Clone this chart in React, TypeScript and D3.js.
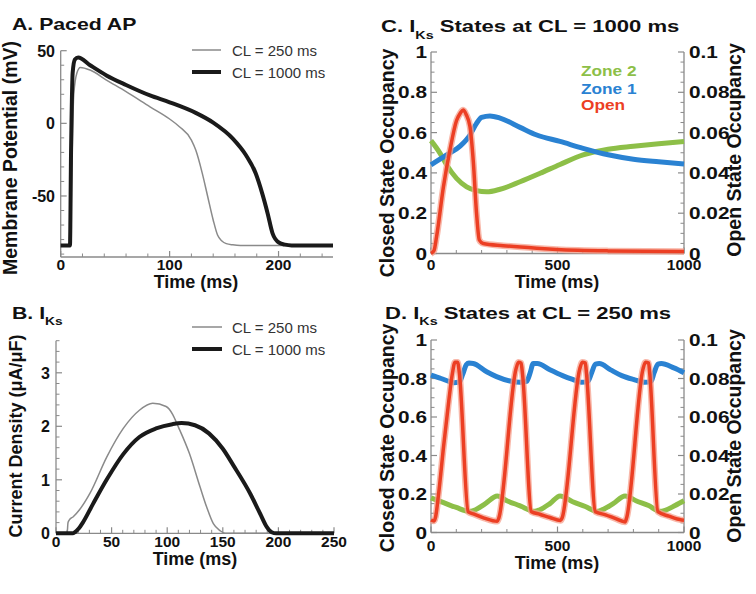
import React from 'react';
import * as d3 from 'd3';

const FONT = "'Liberation Sans', Arial, Helvetica, sans-serif";

// ---------- Panel A: paced AP ----------
const apTime250 = [0, 9, 10, 12, 15, 18, 27, 42, 60, 82, 100, 109, 120, 124, 130, 135, 140, 144, 148, 152, 158, 165, 250];
const apV250 = [-84, -84, -40, 20, 35, 38.5, 36.7, 29.8, 21.8, 11.4, 3, -2.3, -11.5, -18.4, -34.4, -50.5, -66.5, -76.9, -81, -82.8, -83.6, -84, -84];
const apTime1000 = [0, 8.5, 9.5, 11, 13, 16, 27, 42, 60, 82, 100, 124, 140, 158, 170, 179, 185, 190, 194.5, 200.6, 206, 212, 250];
const apV1000 = [-84, -84, -20, 35, 44, 45.4, 40, 33, 26.4, 19.2, 14.5, 7.2, 0.5, -10.5, -21.8, -34.4, -48.2, -62, -75.7, -82.2, -83.5, -84, -84];
const apXTicks = [0, 100, 200];
const apYTicks = [-50, 0, 50];

// ---------- Panel B: IKs ----------
const ikTime250 = [0, 10, 10.8, 12, 15.5, 21.5, 30.6, 45.5, 60.5, 75, 87, 99, 105, 110, 120, 129.5, 135.5, 141.5, 147.5, 152, 250];
const ikI250 = [0, 0, 0.2, 0.25, 0.31, 0.45, 0.75, 1.42, 1.96, 2.3, 2.43, 2.37, 2.22, 1.99, 1.49, 0.87, 0.49, 0.18, 0.05, 0, 0];
const ikTime1000 = [0, 15, 17, 20, 24.4, 33.3, 45.5, 60.5, 75, 90, 104.7, 113, 125, 150, 159.5, 174.7, 183.5, 189.5, 194, 198, 250];
const ikI1000 = [0, 0, 0.02, 0.08, 0.21, 0.55, 1.0, 1.48, 1.8, 1.96, 2.04, 2.06, 2.02, 1.58, 1.27, 0.74, 0.37, 0.12, 0.02, 0, 0];
const ikXTicks = [0, 50, 100, 150, 200, 250];
const ikYTicks = [0, 1, 2, 3];

// ---------- Panel C: states at CL = 1000 ----------
const cTimeZone1 = [0, 62, 115, 154, 180, 200, 233, 273, 352, 418, 510, 601, 700, 800, 900, 1000];
const cZone1 = [0.44, 0.489, 0.533, 0.588, 0.646, 0.676, 0.683, 0.672, 0.626, 0.588, 0.556, 0.522, 0.49, 0.468, 0.455, 0.444];
const cTimeZone2 = [0, 36, 62, 101, 141, 180, 220, 273, 352, 431, 510, 601, 700, 800, 900, 1000];
const cZone2 = [0.56, 0.497, 0.439, 0.373, 0.331, 0.312, 0.306, 0.319, 0.356, 0.398, 0.442, 0.489, 0.517, 0.532, 0.545, 0.556];
const cTimeOpen = [0, 12, 22, 49, 75, 101, 115, 127, 139, 154, 167, 180, 191, 206, 285, 418, 497, 700, 1000];
const cOpen = [0, 0.0015, 0.0083, 0.033, 0.0514, 0.066, 0.0695, 0.0712, 0.069, 0.063, 0.046, 0.02, 0.0067, 0.005, 0.0039, 0.0026, 0.002, 0.0013, 0.001];

// ---------- Panel D: states at CL = 250 ----------
const dTimeZone1 = [0, 40, 75, 90, 112, 125, 140, 150, 167, 220, 259, 312, 352, 378, 392, 404, 420, 470, 520, 560, 595, 620, 635, 650, 665, 710, 754, 800, 846, 870, 882, 897, 910, 960, 1000];
const dZone1 = [0.818, 0.8, 0.783, 0.778, 0.782, 0.82, 0.872, 0.88, 0.878, 0.835, 0.81, 0.787, 0.78, 0.785, 0.83, 0.878, 0.878, 0.845, 0.815, 0.795, 0.78, 0.785, 0.83, 0.875, 0.878, 0.845, 0.815, 0.795, 0.78, 0.785, 0.83, 0.875, 0.878, 0.855, 0.83];
const dTimeZone2 = [0, 50, 100, 152, 170, 215, 262, 300, 350, 410, 430, 470, 510, 560, 610, 655, 675, 720, 767, 810, 860, 905, 925, 965, 1000];
const dZone2 = [0.18, 0.155, 0.13, 0.11, 0.115, 0.15, 0.19, 0.165, 0.14, 0.11, 0.118, 0.15, 0.19, 0.16, 0.135, 0.11, 0.117, 0.15, 0.19, 0.165, 0.14, 0.11, 0.115, 0.14, 0.165];
const dTimeOpen = [0, 12, 18, 30, 50, 70, 85, 95, 105, 112, 147, 170, 210, 262, 268, 336, 346, 356, 362, 397, 430, 470, 512, 518, 588, 598, 610, 615, 650, 690, 730, 767, 773, 838, 848, 860, 865, 897, 940, 991, 1000];
const dOpen = [0.0065, 0.006, 0.008, 0.02, 0.045, 0.068, 0.083, 0.0885, 0.0885, 0.083, 0.0108, 0.0095, 0.0075, 0.0058, 0.0075, 0.085, 0.0885, 0.088, 0.082, 0.0108, 0.0095, 0.0078, 0.0062, 0.0075, 0.085, 0.0885, 0.088, 0.082, 0.0108, 0.0092, 0.0072, 0.0055, 0.0075, 0.085, 0.0885, 0.088, 0.082, 0.0108, 0.0085, 0.0065, 0.0064];

const stXTicks = [0, 500, 1000];
const stLeftTicks = [0, 0.2, 0.4, 0.6, 0.8, 1];
const stLeftLabels = ['0', '0.2', '0.4', '0.6', '0.8', '1'];
const stRightTicks = [0, 0.02, 0.04, 0.06, 0.08, 0.1];
const stRightLabels = ['0', '0.02', '0.04', '0.06', '0.08', '0.1'];

const AXIS = '#8a8a8a';
const GREEN = '#8dbf48';
const BLUE = '#2a82d2';
const RED = '#ec3f24';
const RED_GLOW = '#f6a08e';

type Sc = d3.ScaleLinear<number, number>;

function zip(t: number[], v: number[]): [number, number][] {
  return t.map((d, i) => [d, v[i]]);
}

function path(x: Sc, y: Sc, t: number[], v: number[], curve: any = d3.curveMonotoneX) {
  return d3.line<[number, number]>().x(d => x(d[0])).y(d => y(d[1])).curve(curve)(zip(t, v)) || '';
}

function SText(props: { x: number; y: number; sx?: number; anchor?: string; size: number; weight?: string; fill?: string; rotate?: number; children: any }) {
  const { x, y, sx = 1, anchor = 'start', size, weight = 'bold', fill = '#111', rotate = 0, children } = props;
  return (
    <g transform={`translate(${x},${y}) rotate(${rotate}) scale(${sx},1)`}>
      <text x={0} y={0} textAnchor={anchor as any} fontSize={size} fontWeight={weight} fontFamily={FONT} fill={fill}>{children}</text>
    </g>
  );
}

function Title(props: { x: number; y: number; lead: string; rest?: string; sub?: boolean; sx: number }) {
  const { x, y, lead, rest, sub, sx } = props;
  return (
    <g transform={`translate(${x},${y}) scale(${sx},1)`}>
      <text x={0} y={0} fontSize={17} fontWeight="bold" fontFamily={FONT} fill="#111">
        <tspan>{lead}</tspan>
        {sub ? <tspan dy={6.5} fontSize={11}>Ks</tspan> : null}
        {rest ? <tspan dy={sub ? -6.5 : 0}>{rest}</tspan> : null}
      </text>
    </g>
  );
}

function XAxis(props: { x: Sc; y0: number; major: number[]; minorStep: number; labelY: number; size?: number }) {
  const { x, y0, major, minorStep, labelY, size = 15.5 } = props;
  const [d0, d1] = x.domain();
  const minor = d3.range(d0, d1 + 1e-9, minorStep).filter(v => !major.some(m => Math.abs(m - v) < 1e-9));
  return (
    <g>
      <line x1={x(d0)} x2={x(d1)} y1={y0} y2={y0} stroke={AXIS} strokeWidth={1.3} />
      {major.map(m => <line key={'M' + m} x1={x(m)} x2={x(m)} y1={y0} y2={y0 - 6} stroke={AXIS} strokeWidth={1.2} />)}
      {minor.map(m => <line key={'m' + m} x1={x(m)} x2={x(m)} y1={y0} y2={y0 - 3.5} stroke={AXIS} strokeWidth={1} />)}
      {major.map(m => <SText key={'L' + m} x={x(m)} y={labelY} anchor="middle" size={size}>{String(m)}</SText>)}
    </g>
  );
}

function YAxis(props: { y: Sc; x0: number; major: number[]; labels: string[]; minorStep: number; labelX: number; side: 'left' | 'right'; size?: number; sx?: number }) {
  const { y, x0, major, labels, minorStep, labelX, side, size = 16, sx = 1 } = props;
  const [d0, d1] = y.domain();
  const dir = side === 'left' ? 1 : -1;
  const minor = d3.range(Math.ceil(d0 / minorStep) * minorStep, d1 + 1e-9, minorStep).filter(v => !major.some(m => Math.abs(m - v) < 1e-9));
  return (
    <g>
      <line x1={x0} x2={x0} y1={y(d0)} y2={y(d1)} stroke={AXIS} strokeWidth={1.3} />
      {major.map(m => <line key={'M' + m} x1={x0} x2={x0 + dir * 6} y1={y(m)} y2={y(m)} stroke={AXIS} strokeWidth={1.2} />)}
      {minor.map(m => <line key={'m' + m} x1={x0} x2={x0 + dir * 3.5} y1={y(m)} y2={y(m)} stroke={AXIS} strokeWidth={1} />)}
      {major.map((m, i) => (
        <SText key={'L' + m} x={labelX} y={y(m) + 6} anchor={side === 'left' ? 'end' : 'start'} size={size} sx={sx}>{labels[i]}</SText>
      ))}
    </g>
  );
}

function Legend2(props: { x1: number; x2: number; ya: number; yb: number; tx: number }) {
  const { x1, x2, ya, yb, tx } = props;
  return (
    <g>
      <line x1={x1} x2={x2} y1={ya} y2={ya} stroke="#8a8a8a" strokeWidth={1.5} />
      <line x1={x1} x2={x2} y1={yb} y2={yb} stroke="#1a1a1a" strokeWidth={4} />
      <SText x={tx} y={ya + 5.5} size={15} weight="normal" fill="#333">CL = 250 ms</SText>
      <SText x={tx} y={yb + 5.5} size={15} weight="normal" fill="#333">CL = 1000 ms</SText>
    </g>
  );
}

function PanelA() {
  const x = d3.scaleLinear().domain([0, 250]).range([60.7, 333]);
  const y = d3.scaleLinear().domain([-92, 50]).range([257, 50.7]);
  return (
    <g>
      <Title x={12} y={30} lead="A. Paced AP" sx={1.25} />
      <XAxis x={x} y0={257} major={apXTicks} minorStep={20} labelY={270} />
      <YAxis y={y} x0={60.7} major={apYTicks} labels={apYTicks.map(String)} minorStep={10} labelX={55} side="left" />
      <path d={path(x, y, apTime250, apV250)} fill="none" stroke="#8a8a8a" strokeWidth={1.5} />
      <path d={path(x, y, apTime1000, apV1000)} fill="none" stroke="#1a1a1a" strokeWidth={4} strokeLinejoin="round" />
      <Legend2 x1={192} x2={221} ya={50} yb={72} tx={232} />
      <SText x={16.5} y={158} rotate={-90} anchor="middle" size={19.5}>Membrane Potential (mV)</SText>
      <SText x={196} y={288} anchor="middle" size={18}>Time (ms)</SText>
    </g>
  );
}

function PanelB() {
  const x = d3.scaleLinear().domain([0, 250]).range([56, 334]);
  const y = d3.scaleLinear().domain([0, 3.6]).range([533.3, 340.7]);
  return (
    <g>
      <Title x={12} y={318.7} lead="B. I" sub sx={1.25} />
      <XAxis x={x} y0={533.3} major={ikXTicks} minorStep={10} labelY={547} />
      <YAxis y={y} x0={56} major={ikYTicks} labels={ikYTicks.map(String)} minorStep={0.2} labelX={50} side="left" />
      <path d={path(x, y, ikTime250, ikI250)} fill="none" stroke="#8a8a8a" strokeWidth={1.5} />
      <path d={path(x, y, ikTime1000, ikI1000)} fill="none" stroke="#1a1a1a" strokeWidth={4} strokeLinejoin="round" />
      <Legend2 x1={192} x2={222} ya={327} yb={349} tx={232} />
      <SText x={21.5} y={436} rotate={-90} anchor="middle" size={18}>Current Density (μA/μF)</SText>
      <SText x={195} y={565} anchor="middle" size={18}>Time (ms)</SText>
    </g>
  );
}

function StatesPanel(props: { top: number; bottom: number; title: string; titleY: number; titleX: number; tz1: number[]; z1: number[]; tz2: number[]; z2: number[]; to: number[]; op: number[]; legend?: boolean; xLabY: number; timeY: number; leftC: number; rightC: number }) {
  const { top, bottom, title, titleY, titleX, tz1, z1, tz2, z2, to, op, legend, xLabY, timeY, leftC, rightC } = props;
  const x = d3.scaleLinear().domain([0, 1000]).range([431, 684]);
  const y = d3.scaleLinear().domain([0, 1]).range([bottom, top]);
  const yr = d3.scaleLinear().domain([0, 0.1]).range([bottom, top]);
  return (
    <g>
      <Title x={titleX} y={titleY} lead={title.split('|')[0]} sub rest={title.split('|')[1]} sx={1.3} />
      <XAxis x={x} y0={bottom} major={stXTicks} minorStep={100} labelY={xLabY} />
      <YAxis y={y} x0={431} major={stLeftTicks} labels={stLeftLabels} minorStep={0.05} labelX={427} side="left" sx={1.3} />
      <YAxis y={yr} x0={684} major={stRightTicks} labels={stRightLabels} minorStep={0.005} labelX={689} side="right" sx={1.3} />
      <path d={path(x, y, tz2, z2)} fill="none" stroke={GREEN} strokeWidth={5} strokeLinejoin="round" />
      <path d={path(x, y, tz1, z1)} fill="none" stroke={BLUE} strokeWidth={5} strokeLinejoin="round" />
      <path d={path(x, yr, to, op)} fill="none" stroke={RED_GLOW} strokeWidth={6.5} strokeOpacity={0.75} strokeLinejoin="round" />
      <path d={path(x, yr, to, op)} fill="none" stroke={RED} strokeWidth={3.5} strokeLinejoin="round" />
      {legend ? (
        <g>
          <SText x={581} y={76} size={15} sx={1.15} fill={GREEN}>Zone 2</SText>
          <SText x={581} y={94} size={15} sx={1.15} fill={BLUE}>Zone 1</SText>
          <SText x={581} y={110} size={15} sx={1.15} fill={RED}>Open</SText>
        </g>
      ) : null}
      <SText x={394} y={leftC} rotate={-90} anchor="middle" size={19.5}>Closed State Occupancy</SText>
      <SText x={741} y={rightC} rotate={-90} anchor="middle" size={19.5}>Open State Occupancy</SText>
      <SText x={557} y={timeY} anchor="middle" size={18}>Time (ms)</SText>
    </g>
  );
}

export default function App() {
  return (
    <svg width={756} height={594} viewBox="0 0 756 594" style={{ position: 'absolute', left: 0, top: 0, background: '#fff' }}>
      <rect x={0} y={0} width={756} height={594} fill="#fff" />
      <PanelA />
      <PanelB />
      <StatesPanel top={52} bottom={253.5} title="C. I| States at CL = 1000 ms" titleX={381} titleY={32}
        tz1={cTimeZone1} z1={cZone1} tz2={cTimeZone2} z2={cZone2} to={cTimeOpen} op={cOpen} legend
        xLabY={270} timeY={288} leftC={163} rightC={150} />
      <StatesPanel top={340} bottom={532.5} title="D. I| States at CL = 250 ms" titleX={385} titleY={318.7}
        tz1={dTimeZone1} z1={dZone1} tz2={dTimeZone2} z2={dZone2} to={dTimeOpen} op={dOpen}
        xLabY={551} timeY={569} leftC={438} rightC={436} />
    </svg>
  );
}
